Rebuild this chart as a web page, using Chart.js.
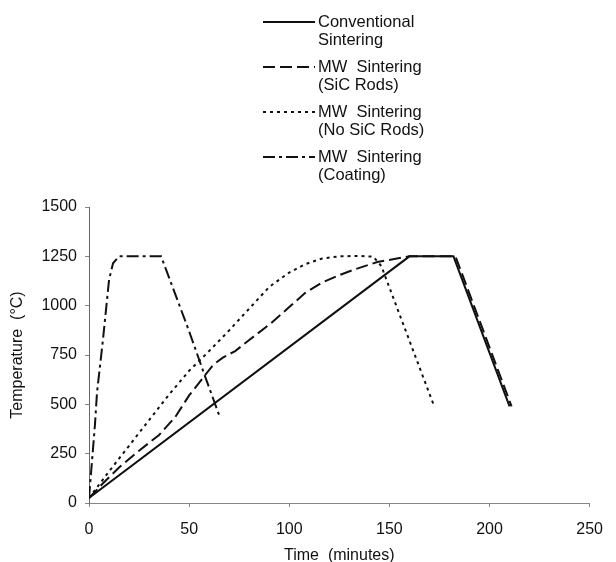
<!DOCTYPE html>
<html>
<head>
<meta charset="utf-8">
<script src="https://cdn.jsdelivr.net/npm/chart.js@4.4.1/dist/chart.umd.min.js"></script>
<style>
  html, body { margin: 0; padding: 0; background: #fff; }
  #wrap { width: 616px; height: 562px; position: relative; }
</style>
</head>
<body>
<div id="wrap"><canvas id="chart" width="616" height="562"></canvas></div>
<script>
// axis ticks
const timeTicks = [0, 50, 100, 150, 200, 250];
const tempTicks = [0, 250, 500, 750, 1000, 1250, 1500];

// series (time in minutes, temperature in °C)
const convTime = [0, 160, 182, 210];
const convTemp = [25, 1250, 1250, 490];

const sicTime = [0, 7, 15, 25, 35, 43, 50, 57, 62, 67, 73, 80, 91, 100, 108, 116, 125, 133, 144, 160, 183, 211];
const sicTemp = [25, 100, 180, 265, 345, 435, 545, 635, 700, 738, 770, 826, 912, 993, 1065, 1115, 1155, 1185, 1221, 1250, 1250, 490];

const noSicTime = [0, 10, 20, 30, 40, 50, 60, 70, 80, 90, 100, 108, 116, 125, 135, 142, 146, 172];
const noSicTemp = [25, 160, 290, 420, 550, 670, 770, 875, 985, 1095, 1168, 1210, 1238, 1250, 1252, 1248, 1200, 500];

const coatTime = [0, 1, 3, 4, 7, 10, 12, 15, 36, 50, 58, 65];
const coatTemp = [25, 150, 400, 560, 830, 1130, 1215, 1250, 1250, 870, 640, 445];

const labels = [
  ["Conventional", "Sintering"],
  ["MW  Sintering", "(SiC Rods)"],
  ["MW  Sintering", "(No SiC Rods)"],
  ["MW  Sintering", "(Coating)"]
];

const ink = "#111";
const font = "'Liberation Sans', Arial, Helvetica, sans-serif";

function pts(xs, ys) {
  return xs.map((x, i) => ({ x: x, y: ys[i] }));
}

// legend drawn by hand, two text lines per entry
const sideLegend = {
  id: "sideLegend",
  afterDraw(chart) {
    const ctx = chart.ctx;
    ctx.save();
    ctx.font = "16.5px " + font;
    ctx.fillStyle = ink;
    ctx.textBaseline = "middle";
    chart.data.datasets.forEach((ds, i) => {
      const y = 22 + i * 45;
      ctx.strokeStyle = ink;
      ctx.lineWidth = 2;
      ctx.setLineDash(ds.borderDash || []);
      ctx.beginPath();
      ctx.moveTo(263, y);
      ctx.lineTo(315, y);
      ctx.stroke();
      ctx.setLineDash([]);
      labels[i].forEach((t, j) => ctx.fillText(t, 318, y + j * 18));
    });
    ctx.restore();
  }
};

new Chart(document.getElementById("chart"), {
  type: "scatter",
  data: {
    datasets: [
      { label: "Conventional Sintering", data: pts(convTime, convTemp), borderDash: [] },
      { label: "MW Sintering (SiC Rods)", data: pts(sicTime, sicTemp), borderDash: [12, 5] },
      { label: "MW Sintering (No SiC Rods)", data: pts(noSicTime, noSicTemp), borderDash: [3, 4] },
      { label: "MW Sintering (Coating)", data: pts(coatTime, coatTemp), borderDash: [12, 4, 3, 4] }
    ].map(d => Object.assign({
      showLine: true,
      borderColor: ink,
      backgroundColor: ink,
      borderWidth: 2,
      pointRadius: 0,
      tension: 0
    }, d))
  },
  options: {
    responsive: false,
    animation: false,
    layout: { padding: { top: 207, right: 23, left: 0, bottom: 0 } },
    plugins: { legend: { display: false }, tooltip: { enabled: false } },
    scales: {
      x: {
        type: "linear",
        min: timeTicks[0],
        max: timeTicks[timeTicks.length - 1],
        afterFit(s) { s.height = 59; },
        afterBuildTicks(s) { s.ticks = timeTicks.map(v => ({ value: v })); },
        ticks: { color: ink, padding: 13, font: { family: font, size: 16 }, callback: v => String(v) },
        grid: { drawOnChartArea: false, tickLength: 4, color: "#888" },
        border: { color: "#888", width: 1 },
        title: {
          display: true,
          text: "Time  (minutes)",
          color: ink,
          padding: { top: 0, bottom: -2 },
          font: { family: font, size: 16, lineHeight: 1 }
        }
      },
      y: {
        min: tempTicks[0],
        max: tempTicks[tempTicks.length - 1],
        afterFit(s) { s.width = 89; },
        afterBuildTicks(s) { s.ticks = tempTicks.map(v => ({ value: v })); },
        ticks: { color: ink, padding: 8, font: { family: font, size: 16 }, callback: v => String(v) },
        grid: { drawOnChartArea: false, tickLength: 4, color: "#888" },
        border: { color: "#666", width: 1 },
        title: {
          display: true,
          text: "Temperature  (°C)",
          color: ink,
          padding: { top: 8, bottom: 0 },
          font: { family: font, size: 16 }
        }
      }
    }
  },
  plugins: [sideLegend]
});
</script>
</body>
</html>
